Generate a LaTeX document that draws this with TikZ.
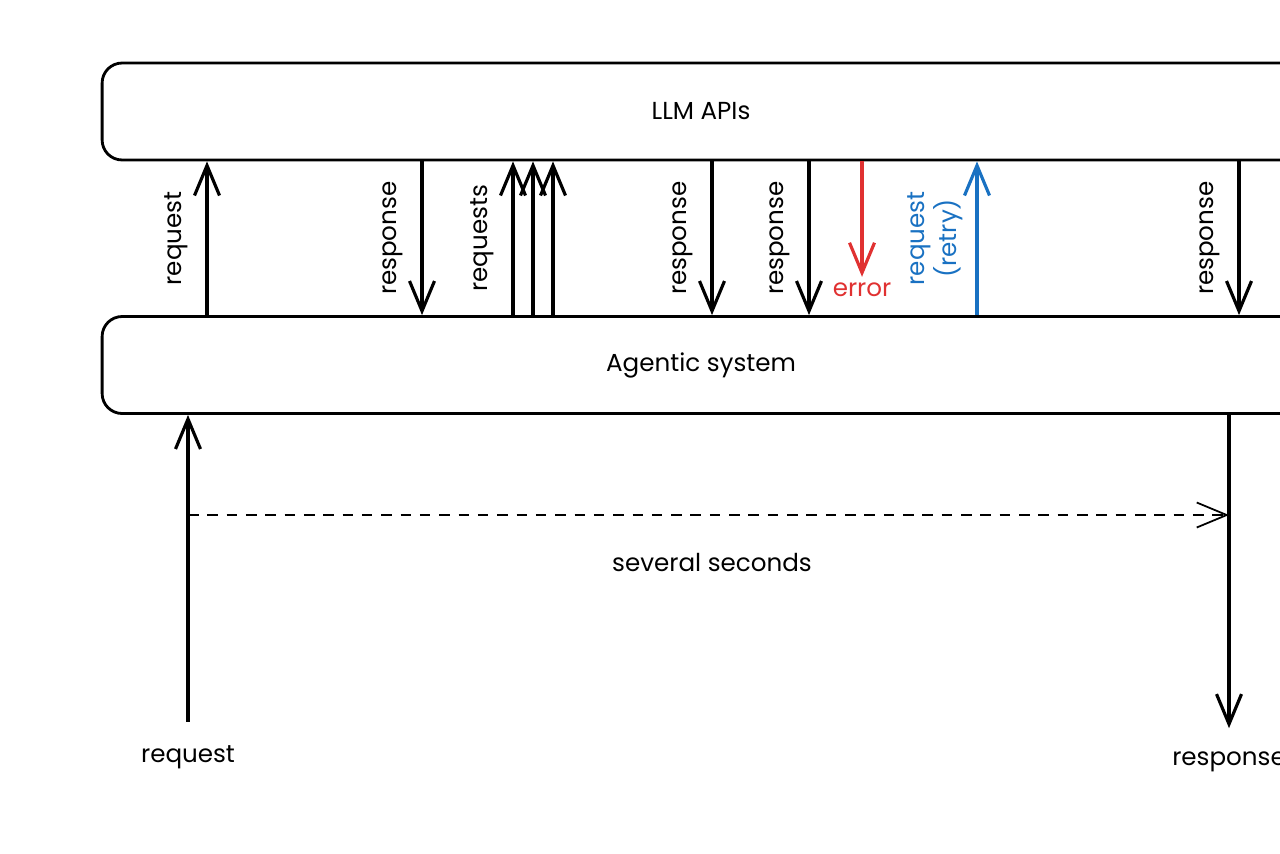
\documentclass[tikz,border=0pt]{standalone}
\usepackage{fontspec}
\setmainfont{Poppins}
\usetikzlibrary{arrows.meta, positioning}
\definecolor{errred}{HTML}{E03131}
\definecolor{retryblue}{HTML}{1971C2}
\tikzset{
	layerbox/.style={draw, line width=1.6pt, rounded corners=0.4cm, minimum width=23.96cm, minimum height=1.94cm, font=\fontsize{14}{16}\selectfont}
}
\tikzset{
	call/.style={line width=1.8pt, -{Straight Barb[length=0.6cm,width=0.5cm]}}
}
\tikzset{
	sideword/.style={midway, rotate=90, anchor=south, inner ysep=0.36cm, font=\fontsize{14}{16}\selectfont}
}
\tikzset{
	plainword/.style={font=\fontsize{14}{16}\selectfont}
}

\begin{document}
\begin{tikzpicture}[x=0.02cm, y=-0.02cm]
  \useasboundingbox (0,0) rectangle (1280,853);
  \clip (0,0) rectangle (1280,853);
  % the two layers
  \node[layerbox] (llm) at (701,111.5) {LLM APIs};
  \node[layerbox] (agent) at (701,365) {Agentic system};
  % calls going up
  \foreach \x/\lbl in {207/request, 513/requests}
    \draw[call] (\x,0 |- agent.north) -- (\x,0 |- llm.south) node[sideword] {\lbl};
  \foreach \x in {533,553}
    \draw[call] (\x,0 |- agent.north) -- (\x,0 |- llm.south);
  % answers coming down
  \foreach \x in {422,712,809,1239}
    \draw[call] (\x,0 |- llm.south) -- (\x,0 |- agent.north) node[sideword] {response};
  % failed call and its retry
  \node[plainword, text=errred] (err) at (862,290) {error};
  \draw[call, errred] (err.north |- llm.south) -- (err.north);
  \draw[call, retryblue] (977,0 |- agent.north) -- (977,0 |- llm.south)
    node[sideword, align=center, text=retryblue, inner ysep=0.26cm] {request\\(retry)};
  % outside request / response
  \node[plainword] (req) at (188,757) {request};
  \node[plainword] (res) at (1229,762) {response};
  \draw[call, shorten <=10pt] (req.north) -- (req.north |- agent.south);
  \draw[call, shorten >=10pt] (res.north |- agent.south) -- (res.north);
  \coordinate (t0) at (req |- 0,515);
  \coordinate (t1) at (res |- 0,515);
  \draw[call, line width=1pt, dash pattern=on 6pt off 5pt] (t0) -- (t1);
  \node[plainword] (dur) at (712,562) {several seconds};
\end{tikzpicture}
\end{document}
